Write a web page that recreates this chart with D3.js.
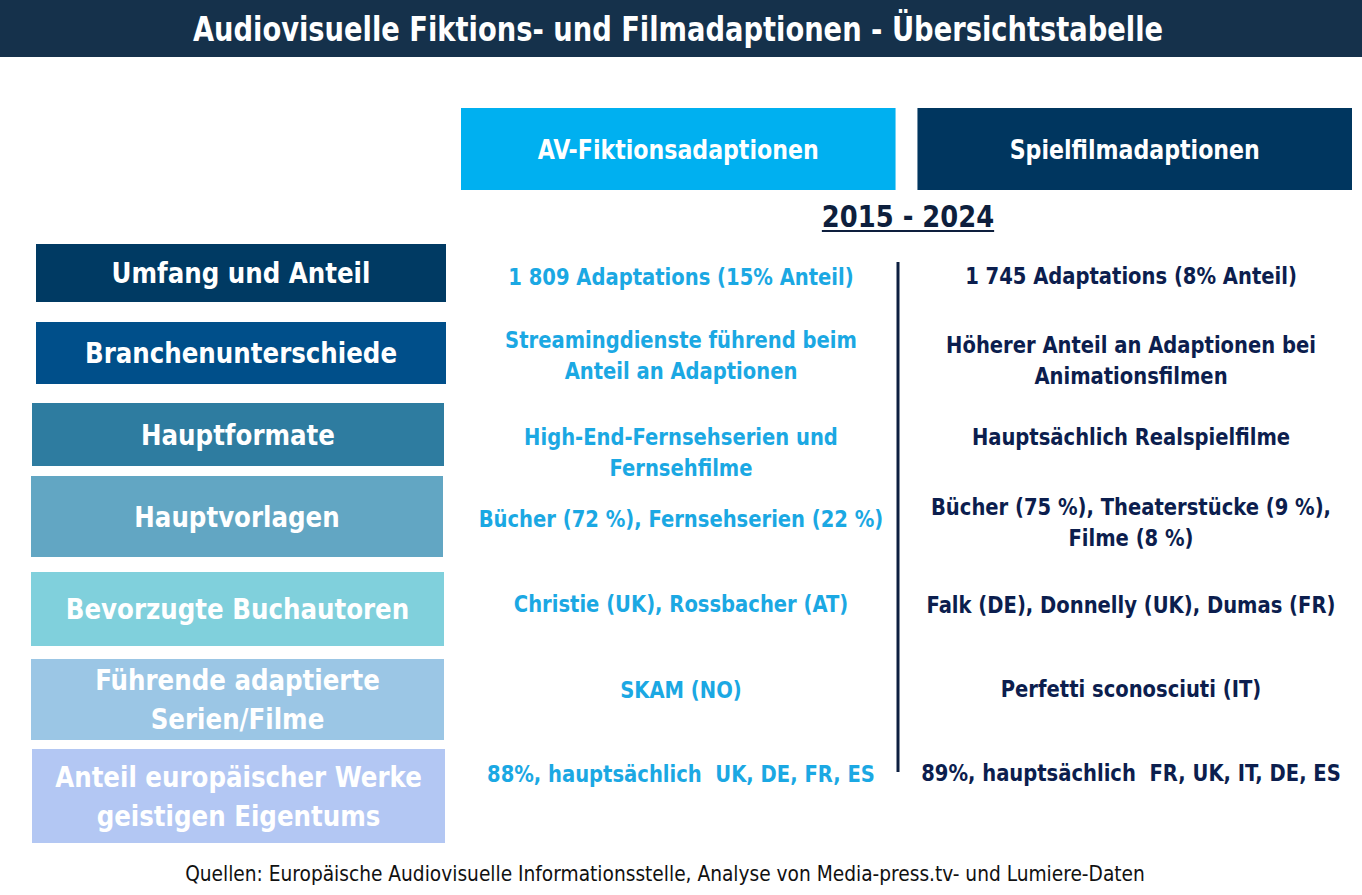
<!DOCTYPE html>
<html>
<head>
<meta charset="utf-8">
<script src="https://cdn.jsdelivr.net/npm/d3@7"></script>
<style>
  body { margin: 0; background: #fff; }
  svg { display: block; }
  text { white-space: pre; }
</style>
</head>
<body>
<script>
const WIDTH = 1362;
const HEIGHT = 895;
const FONT = "'DejaVu Sans Condensed', 'DejaVu Sans', sans-serif";

// Chart content
const title = "Audiovisuelle Fiktions- und Filmadaptionen - Übersichtstabelle";
const columns = ["AV-Fiktionsadaptionen", "Spielfilmadaptionen"];
const period = "2015 - 2024";
const categories = [
  ["Umfang und Anteil"],
  ["Branchenunterschiede"],
  ["Hauptformate"],
  ["Hauptvorlagen"],
  ["Bevorzugte Buchautoren"],
  ["Führende adaptierte", "Serien/Filme"],
  ["Anteil europäischer Werke", "geistigen Eigentums"]
];
const avValues = [
  ["1 809 Adaptations (15% Anteil)"],
  ["Streamingdienste führend beim", "Anteil an Adaptionen"],
  ["High-End-Fernsehserien und", "Fernsehfilme"],
  ["Bücher (72 %), Fernsehserien (22 %)"],
  ["Christie (UK), Rossbacher (AT)"],
  ["SKAM (NO)"],
  ["88%, hauptsächlich  UK, DE, FR, ES"]
];
const filmValues = [
  ["1 745 Adaptations (8% Anteil)"],
  ["Höherer Anteil an Adaptionen bei", "Animationsfilmen"],
  ["Hauptsächlich Realspielfilme"],
  ["Bücher (75 %), Theaterstücke (9 %),", "Filme (8 %)"],
  ["Falk (DE), Donnelly (UK), Dumas (FR)"],
  ["Perfetti sconosciuti (IT)"],
  ["89%, hauptsächlich  FR, UK, IT, DE, ES"]
];
const source = "Quellen: Europäische Audiovisuelle Informationsstelle, Analyse von Media-press.tv- und Lumiere-Daten";

// Layout of the left label boxes and the vertical centre of each row's cell text
const boxLayout = [
  { x: 36, w: 410, y: 244, h: 58 },
  { x: 36, w: 410, y: 322, h: 62 },
  { x: 32, w: 412, y: 403, h: 63 },
  { x: 31, w: 412, y: 476, h: 81 },
  { x: 31, w: 413, y: 572, h: 74 },
  { x: 31, w: 413, y: 659, h: 81 },
  { x: 32, w: 413, y: 749, h: 94 }
];
const avTextY = [277, 355, 452, 519, 604, 690, 774];
const filmTextY = [276, 360, 437, 522, 605, 689, 773];
const boxColors = ["#003a63", "#004f8a", "#2e7ca0", "#62a6c3", "#80d0dc", "#9bc6e5", "#b3c7f3"];
const headerColors = ["#00b0f0", "#00365f"];

const svg = d3.select("body").append("svg")
  .attr("width", WIDTH)
  .attr("height", HEIGHT);

// Writes one centred text element per line, squeezed a bit to match the
// narrower face of the original. Returns the width of the widest line.
function label(lines, cx, cy, lineHeight, size, color, squeeze, weight) {
  const first = cy - (lines.length - 1) * lineHeight / 2;
  let widest = 0;
  lines.forEach((l, j) => {
    const t = svg.append("text")
      .attr("x", cx)
      .attr("y", first + j * lineHeight)
      .attr("text-anchor", "middle")
      .attr("dominant-baseline", "central")
      .style("font-family", FONT)
      .style("font-weight", weight || "bold")
      .style("font-size", size + "px")
      .attr("fill", color)
      .text(l);
    const len = t.node().getComputedTextLength() * squeeze;
    t.attr("textLength", len)
     .attr("lengthAdjust", "spacingAndGlyphs");
    widest = Math.max(widest, len);
  });
  return widest;
}

// Title bar
svg.append("rect")
  .attr("x", 0).attr("y", 0)
  .attr("width", WIDTH).attr("height", 57)
  .attr("fill", "#15314b");
label([title], 678, 29, 0, 33, "#fff", 0.92);

// Column headers
const colX = d3.scaleBand()
  .domain(columns)
  .range([461, 1352])
  .paddingInner(0.048);

svg.selectAll(".header")
  .data(columns)
  .enter().append("rect")
    .attr("class", "header")
    .attr("x", d => colX(d))
    .attr("y", 108)
    .attr("width", colX.bandwidth())
    .attr("height", 82)
    .attr("fill", (d, i) => headerColors[i]);

columns.forEach(c => label([c], colX(c) + colX.bandwidth() / 2, 149, 0, 27, "#fff", 0.91));

// Period label with underline
const pw = label([period], 908, 216, 0, 31, "#0e1f3d", 0.925);
svg.append("line")
  .attr("x1", 908 - pw / 2).attr("x2", 908 + pw / 2)
  .attr("y1", 231).attr("y2", 231)
  .attr("stroke", "#0e1f3d")
  .attr("stroke-width", 2);

// Divider between the two columns
svg.append("line")
  .attr("x1", 898).attr("x2", 898)
  .attr("y1", 262).attr("y2", 772)
  .attr("stroke", "#0d1f40")
  .attr("stroke-width", 3);

// Row label boxes
svg.selectAll(".row-box")
  .data(categories)
  .enter().append("rect")
    .attr("class", "row-box")
    .attr("x", (d, i) => boxLayout[i].x)
    .attr("y", (d, i) => boxLayout[i].y)
    .attr("width", (d, i) => boxLayout[i].w)
    .attr("height", (d, i) => boxLayout[i].h)
    .attr("fill", (d, i) => boxColors[i]);

categories.forEach((d, i) => {
  const b = boxLayout[i];
  label(d, b.x + b.w / 2, b.y + b.h / 2, 39, 29, "#fff", 0.94);
});

// Cell texts
avValues.forEach((d, i) => label(d, 681, avTextY[i], 31, 23, "#1ba8e3", 0.945));
filmValues.forEach((d, i) => label(d, 1131, filmTextY[i], 31, 23, "#0c1e4e", 0.945));

// Source line
label([source], 665, 873, 0, 22, "#111", 0.94, "normal");
</script>
</body>
</html>
